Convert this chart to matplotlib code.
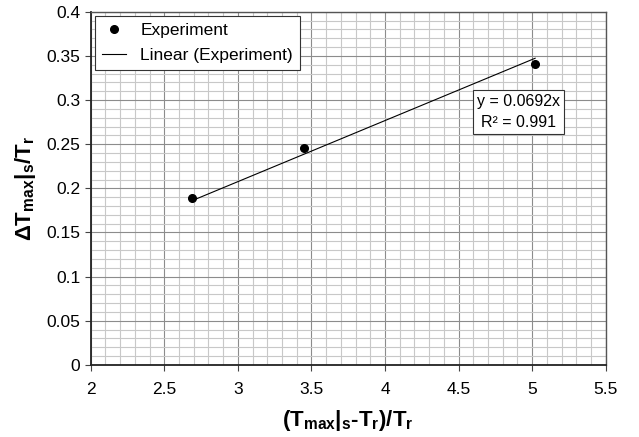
import matplotlib
matplotlib.use("Agg")
import matplotlib.pyplot as plt
import numpy as np

# values
xExp = [2.69, 3.45, 5.02]
yExp = [0.189, 0.246, 0.341]
slope = 0.0692
r2 = 0.991

plt.rcParams['font.family'] = ['Liberation Sans', 'DejaVu Sans']
plt.rcParams['mathtext.fontset'] = 'custom'
plt.rcParams['mathtext.rm'] = 'Liberation Sans'
plt.rcParams['mathtext.it'] = 'Liberation Sans'
plt.rcParams['mathtext.bf'] = 'Liberation Sans:bold'

fig = plt.figure(figsize=(6.39, 4.37), dpi=100)
ax = fig.add_axes([0.142, 0.165, 0.806, 0.808])

xFit = np.array([min(xExp), max(xExp)])
ax.plot(xExp, yExp, 'o', color='black', markersize=5.5, label='Experiment', zorder=4)
ax.plot(xFit, slope * xFit, '-', color='black', linewidth=0.8, label='Linear (Experiment)', zorder=3)

ax.set_xlim(2, 5.5)
ax.set_ylim(0, 0.4)
ax.set_xticks(np.arange(2, 5.51, 0.5))
ax.set_xticklabels(['2', '2.5', '3', '3.5', '4', '4.5', '5', '5.5'])
ax.set_yticks(np.arange(0, 0.401, 0.05))
ax.set_yticklabels(['0', '0.05', '0.1', '0.15', '0.2', '0.25', '0.3', '0.35', '0.4'])
ax.set_xticks(np.arange(2, 5.51, 0.1), minor=True)
ax.set_yticks(np.arange(0, 0.401, 0.01), minor=True)
ax.grid(which='minor', color='#c8c8c8', linewidth=0.8)
ax.grid(which='major', color='#8c8c8c', linewidth=0.8)
ax.set_axisbelow(True)
ax.tick_params(which='major', direction='out', length=4, labelsize=12.5, color='#444444')
ax.tick_params(axis='x', which='major', pad=8)
ax.tick_params(which='minor', length=0)

for side in ['left', 'bottom']:
    ax.spines[side].set_linewidth(1.3)
    ax.spines[side].set_color('#222222')
for side in ['top', 'right']:
    ax.spines[side].set_linewidth(1.0)
    ax.spines[side].set_color('#555555')

ax.set_xlabel('$\\mathbf{(T_{max}|_s\u2010T_r)/T_r}$', fontsize=16, labelpad=8)
ax.set_ylabel(r'$\mathbf{\Delta T_{max}|_s/T_r}$', fontsize=16, labelpad=6)

leg = ax.legend(loc='upper left', fontsize=12.5, frameon=True, fancybox=False,
                edgecolor='#333333', framealpha=1, borderaxespad=0.25,
                handlelength=1.4, labelspacing=0.55)
leg.get_frame().set_linewidth(0.8)

ax.text(4.91, 0.286, 'y = %.4fx\nR\u00b2 = %.3f' % (slope, r2), fontsize=11.5,
        ha='center', va='center', multialignment='center', linespacing=1.5,
        bbox=dict(boxstyle='square,pad=0.25', facecolor='white', edgecolor='#333333', linewidth=0.8))

fig.savefig('out.png', dpi=100)
